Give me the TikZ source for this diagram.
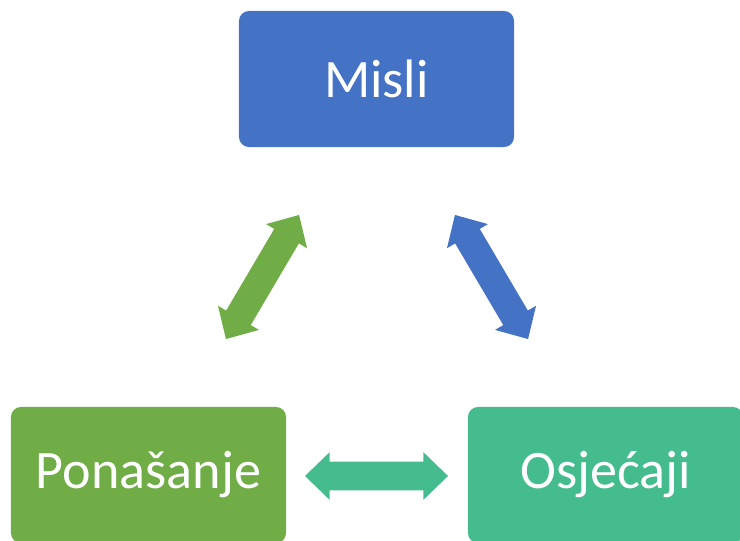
\documentclass[tikz,border=0pt]{standalone}
\usepackage{fontspec}
\setmainfont{Carlito}
\usetikzlibrary{shapes.arrows}
\definecolor{misliblue}{HTML}{4472C4}
\definecolor{ponagreen}{HTML}{70AD47}
\definecolor{osjteal}{HTML}{45BC8E}
\begin{document}
\begin{tikzpicture}[x=0.025cm,y=0.025cm,
    box/.style={rectangle,rounded corners=0.25cm,minimum width=6.875cm,minimum height=3.4cm,
      text=white,font=\fontsize{38.5}{42}\selectfont},
    dblarrow/.style={double arrow,inner xsep=0pt,inner ysep=0.35cm,minimum height=3.6cm,
      double arrow head extend=0.2375cm,double arrow tip angle=88}]
  \clip (0,0) rectangle (740,540);
  \useasboundingbox (0,0) rectangle (740,540);

  \node[box,fill=misliblue] (misli) at (376.5,461) {Misli};
  \node[box,fill=ponagreen] (ponasanje) at (148.5,65) {Ponašanje};
  \node[box,fill=osjteal] (osjecaji) at (605.5,65) {Osjećaji};

  % double arrows between the boxes
  \node[dblarrow,fill=ponagreen,rotate=59.5] (pm) at (262.5,263) {};
  \node[dblarrow,fill=misliblue,rotate=-59.5] (mo) at (491.5,263) {};
  \node[dblarrow,fill=osjteal,minimum height=3.575cm] (po) at (376.5,64) {};

\end{tikzpicture}
\end{document}
